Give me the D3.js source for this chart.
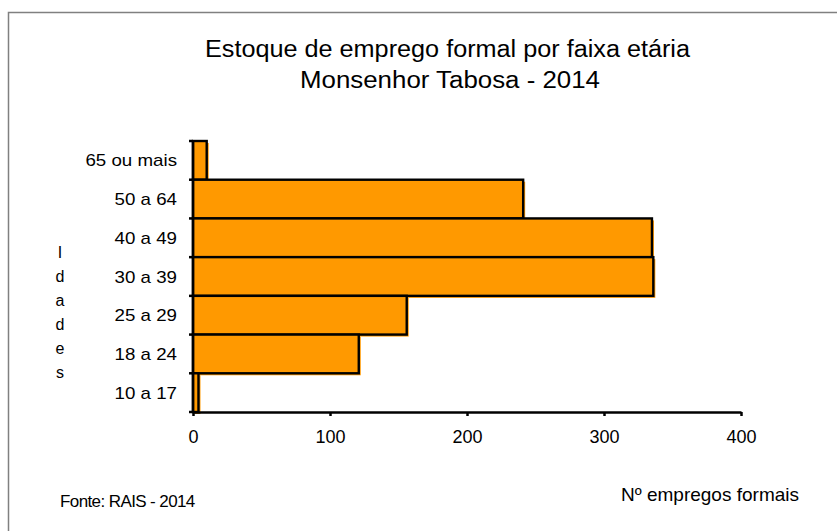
<!DOCTYPE html>
<html>
<head>
<meta charset="utf-8">
<script src="https://cdn.jsdelivr.net/npm/d3@7"></script>
<style>
  body { margin: 0; background: #fff; }
  text { font-family: "Liberation Sans", Arial, sans-serif; fill: #000; }
</style>
</head>
<body>
<div id="chart"></div>
<script>
// data
const faixas = ["65 ou mais", "50 a 64", "40 a 49", "30 a 39", "25 a 29", "18 a 24", "10 a 17"];
const empregos = [10, 241, 335, 336, 156, 121, 4];
const xTicks = [0, 100, 200, 300, 400];
const axisLetters = ["I", "d", "a", "d", "e", "s"];

(() => {
  const width = 837, height = 531;
  const svg = d3.select("#chart")
    .append("svg")
    .attr("width", width)
    .attr("height", height);

  // outer frame
  svg.append("rect")
    .attr("x", 8.5).attr("y", 12.5)
    .attr("width", 850).attr("height", 540)
    .attr("fill", "none")
    .attr("stroke", "#808080")
    .attr("stroke-width", 1.5);

  const x = d3.scaleLinear().domain([0, 400]).range([193, 741]);
  const y = d3.scaleBand().domain(faixas).range([141, 412]).padding(0);

  const rows = faixas.map((f, i) => ({ faixa: f, value: empregos[i] }));

  // shadow
  svg.append("g").selectAll("rect")
    .data(rows)
    .enter().append("rect")
    .attr("x", x(0) + 2)
    .attr("y", d => y(d.faixa) + 2)
    .attr("width", d => x(d.value) - x(0))
    .attr("height", y.bandwidth())
    .attr("fill", "#ff9900");

  // bars
  svg.append("g").selectAll("rect")
    .data(rows)
    .enter().append("rect")
    .attr("x", x(0))
    .attr("y", d => y(d.faixa))
    .attr("width", d => x(d.value) - x(0))
    .attr("height", y.bandwidth())
    .attr("fill", "#ff9900")
    .attr("stroke", "#000")
    .attr("stroke-width", 2.4);

  // x axis
  const xAxis = svg.append("g")
    .attr("transform", `translate(0,${y.range()[1]})`)
    .call(d3.axisBottom(x).tickValues(xTicks).tickSize(4).tickPadding(14).tickSizeOuter(0));
  xAxis.select(".domain").attr("stroke", "#000").attr("stroke-width", 2.5);
  xAxis.selectAll(".tick line").attr("stroke", "#000").attr("stroke-width", 2.5);
  xAxis.selectAll("text")
    .style("font-family", "Liberation Sans, Arial, sans-serif")
    .style("font-size", "18px")
    .attr("fill", "#000");

  // y axis (ticks at band edges)
  const yG = svg.append("g");
  yG.append("line")
    .attr("x1", x(0)).attr("x2", x(0))
    .attr("y1", y.range()[0]).attr("y2", y.range()[1])
    .attr("stroke", "#000").attr("stroke-width", 2.5);
  const edges = faixas.map(f => y(f)).concat([y.range()[1]]);
  yG.selectAll(".ytick")
    .data(edges)
    .enter().append("line")
    .attr("x1", x(0) - 4).attr("x2", x(0))
    .attr("y1", d => d).attr("y2", d => d)
    .attr("stroke", "#000").attr("stroke-width", 2.5);
  // labels are a bit wider than plain Arial in the original
  yG.selectAll(".ylab")
    .data(faixas)
    .enter().append("text")
    .attr("transform", d => `translate(177,${y(d) + y.bandwidth() / 2 + 6}) scale(1.17,1)`)
    .attr("text-anchor", "end")
    .style("font-size", "16px")
    .text(d => d);

  // vertical axis title, one letter per line
  svg.append("g").selectAll("text")
    .data(axisLetters)
    .enter().append("text")
    .attr("x", 60)
    .attr("y", (d, i) => 258 + i * 24)
    .attr("text-anchor", "middle")
    .style("font-size", "16px")
    .text(d => d);

  // title
  svg.append("text")
    .attr("x", 205).attr("y", 57)
    .attr("textLength", 485)
    .attr("lengthAdjust", "spacingAndGlyphs")
    .style("font-size", "23px")
    .text("Estoque de emprego formal por faixa etária");
  svg.append("text")
    .attr("x", 300).attr("y", 88)
    .attr("textLength", 300)
    .attr("lengthAdjust", "spacingAndGlyphs")
    .style("font-size", "23px")
    .text("Monsenhor Tabosa  - 2014");

  // axis title + source
  svg.append("text")
    .attr("x", 621).attr("y", 501)
    .style("font-size", "19px")
    .text("Nº empregos formais");
  svg.append("text")
    .attr("x", 60).attr("y", 507)
    .style("font-size", "17px")
    .style("letter-spacing", "-0.6px")
    .text("Fonte: RAIS - 2014");
})();
</script>
</body>
</html>
